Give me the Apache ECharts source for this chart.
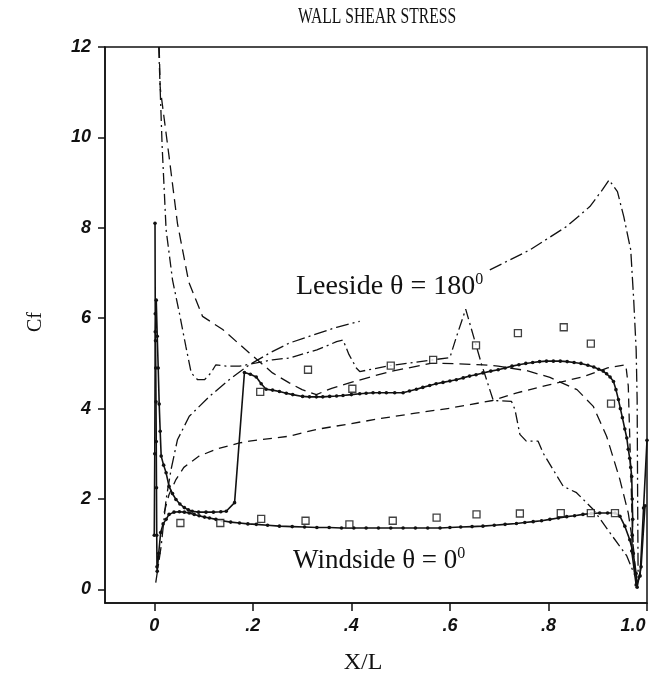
<!DOCTYPE html>
<html>
<head>
<meta charset="utf-8">
<title>Wall shear stress</title>
<script src="https://cdn.jsdelivr.net/npm/echarts@6/dist/echarts.min.js"></script>
<style>
  html, body { margin: 0; padding: 0; background: #fff; }
  #chart { width: 650px; height: 685px; }
</style>
</head>
<body>
<div id="chart"></div>
<script>
// Axis ticks
const xTickValues = [0, 0.2, 0.4, 0.6, 0.8, 1.0];
const xTickLabels = ['0', '.2', '.4', '.6', '.8', '1.0'];
const yTickValues = [0, 2, 4, 6, 8, 10, 12];
const yTickLabels = ['0', '2', '4', '6', '8', '10', '12'];

// Computed skin friction, leeside (theta = 180 deg), [X/L, Cf]
const leesideCalc = [
  [0.000,1.2],[0.001,3.0],[0.002,5.7],[0.004,6.4],[0.006,5.6],[0.008,4.9],[0.010,4.1],[0.012,3.5],
  [0.014,2.95],[0.019,2.75],[0.024,2.58],[0.030,2.28],[0.037,2.12],[0.044,1.99],[0.052,1.89],
  [0.061,1.81],[0.069,1.76],[0.077,1.73],[0.090,1.71],[0.105,1.71],[0.120,1.71],[0.135,1.72],
  [0.146,1.73],[0.163,1.92],[0.183,4.80],[0.195,4.76],[0.207,4.70],[0.217,4.55],[0.227,4.43],
  [0.240,4.41],[0.254,4.38],[0.268,4.34],[0.281,4.31],[0.301,4.27],[0.315,4.26],[0.329,4.26],
  [0.342,4.26],[0.356,4.27],[0.370,4.28],[0.383,4.29],[0.400,4.31],[0.417,4.33],[0.430,4.34],
  [0.444,4.35],[0.457,4.35],[0.471,4.35],[0.488,4.35],[0.505,4.35],[0.518,4.39],[0.532,4.43],
  [0.545,4.47],[0.559,4.51],[0.572,4.55],[0.586,4.58],[0.600,4.61],[0.613,4.64],[0.627,4.68],
  [0.640,4.72],[0.653,4.75],[0.667,4.79],[0.683,4.83],[0.698,4.86],[0.712,4.90],[0.726,4.94],
  [0.740,4.97],[0.754,5.00],[0.768,5.02],[0.782,5.04],[0.796,5.05],[0.810,5.05],[0.824,5.05],
  [0.838,5.04],[0.852,5.02],[0.866,5.00],[0.880,4.96],[0.892,4.92],[0.902,4.87],[0.911,4.83],
  [0.918,4.77],[0.925,4.70],[0.932,4.60],[0.937,4.42],[0.942,4.20],[0.946,4.00],[0.950,3.80],
  [0.955,3.55],[0.959,3.35],[0.962,3.10],[0.965,2.90],[0.967,2.70],[0.969,2.50],[0.970,2.00],
  [0.971,1.55],[0.970,1.20],[0.969,0.85],[0.978,0.10],[0.986,0.30],[0.993,1.80],[1.000,3.30]
];

// Computed skin friction, windside (theta = 0 deg), [X/L, Cf]
const windsideCalc = [
  [0.0015,8.1],[0.002,6.1],[0.0025,5.5],[0.003,4.9],[0.0035,4.15],[0.004,3.27],[0.0045,2.25],
  [0.005,1.2],[0.0055,0.5],[0.006,0.4],[0.009,0.8],[0.013,1.26],[0.018,1.45],[0.024,1.55],
  [0.030,1.66],[0.040,1.71],[0.051,1.72],[0.061,1.71],[0.071,1.69],[0.081,1.66],[0.091,1.63],
  [0.102,1.60],[0.112,1.58],[0.125,1.55],[0.138,1.52],[0.155,1.49],[0.173,1.47],[0.190,1.45],
  [0.207,1.44],[0.230,1.42],[0.254,1.40],[0.280,1.39],[0.305,1.38],[0.330,1.37],[0.355,1.37],
  [0.380,1.36],[0.405,1.36],[0.430,1.36],[0.455,1.36],[0.480,1.36],[0.505,1.36],[0.530,1.36],
  [0.555,1.36],[0.580,1.36],[0.600,1.37],[0.622,1.38],[0.645,1.39],[0.667,1.40],[0.690,1.42],
  [0.712,1.44],[0.735,1.46],[0.752,1.48],[0.769,1.50],[0.786,1.52],[0.803,1.55],[0.820,1.58],
  [0.837,1.61],[0.853,1.63],[0.870,1.66],[0.887,1.68],[0.904,1.69],[0.920,1.69],[0.935,1.69],
  [0.945,1.62],[0.955,1.40],[0.965,1.10],[0.972,0.80],[0.978,0.35],[0.980,0.05],[0.988,0.50],
  [0.996,1.85]
];

// Model curve A (long dash / dot)
const modelA = [
  [0.009,12.0],[0.016,9.8],[0.024,7.96],[0.037,6.85],[0.051,6.11],[0.064,5.38],[0.075,4.79],
  [0.088,4.64],[0.102,4.64],[0.115,4.79],[0.125,4.97],[0.146,4.94],[0.173,4.94],[0.207,5.01],
  [0.240,5.08],[0.274,5.12],[0.330,5.30],[0.370,5.48],[0.383,5.52],[0.395,5.20],[0.410,4.90],
  [0.417,4.82],[0.478,4.95],[0.566,5.08],[0.600,5.13],[0.613,5.58],[0.632,6.20],[0.664,4.99],
  [0.688,4.18],[0.725,4.16],[0.732,3.98],[0.742,3.43],[0.755,3.28],[0.779,3.28],[0.789,3.02],
  [0.830,2.28],[0.857,2.14],[0.891,1.77],[0.925,1.25],[0.959,0.74],[0.976,0.29]
];

// Model curve B (dash / dot), broken where the leeside label sits
const modelB = [
  [0.003,0.15],[0.014,0.96],[0.024,1.99],[0.034,2.65],[0.047,3.31],[0.071,3.83],[0.112,4.27],
  [0.152,4.64],[0.193,4.97],[0.234,5.23],[0.274,5.45],[0.320,5.62],[0.370,5.80],[0.417,5.93],
  [0.550,'-'],
  [0.681,7.07],[0.762,7.51],[0.837,8.03],[0.884,8.47],[0.910,8.85],[0.923,9.06],[0.940,8.80],
  [0.953,8.24],[0.967,7.51],[0.973,6.41],[0.978,5.30],[0.980,4.20],[0.981,2.0],[0.982,0.25]
];

// Model curve C (dashed, upper)
const modelC = [
  [0.010,12.0],[0.012,11.1],[0.030,9.58],[0.047,8.10],[0.070,6.80],[0.098,6.04],[0.139,5.75],
  [0.193,5.23],[0.240,4.79],[0.274,4.57],[0.300,4.42],[0.329,4.31],[0.360,4.45],[0.396,4.57],
  [0.478,4.82],[0.566,5.01],[0.667,4.97],[0.698,4.94],[0.756,4.84],[0.803,4.69],[0.858,4.42],
  [0.891,4.05],[0.918,3.39],[0.945,2.43],[0.962,1.69],[0.972,0.96],[0.978,0.20]
];

// Model curve D (dashed, lower)
const modelD = [
  [0.020,1.70],[0.030,2.10],[0.044,2.43],[0.060,2.70],[0.091,2.95],[0.130,3.12],[0.173,3.24],
  [0.193,3.28],[0.274,3.39],[0.329,3.54],[0.400,3.67],[0.464,3.79],[0.530,3.90],[0.600,4.01],
  [0.687,4.18],[0.736,4.35],[0.803,4.53],[0.872,4.71],[0.920,4.90],[0.957,4.97],[0.962,4.50],
  [0.966,3.00],[0.970,1.50],[0.975,0.30]
];

// Measured values
const leesideExp = [
  [0.215,4.37],[0.312,4.86],[0.402,4.44],[0.480,4.95],[0.566,5.08],[0.653,5.40],
  [0.738,5.67],[0.831,5.80],[0.886,5.44],[0.927,4.11]
];
const windsideExp = [
  [0.053,1.47],[0.134,1.47],[0.217,1.56],[0.307,1.52],[0.396,1.44],[0.484,1.52],
  [0.573,1.59],[0.654,1.66],[0.742,1.68],[0.825,1.69],[0.886,1.69],[0.935,1.69]
];

const INK = '#111';
const serif = '"Liberation Serif", "DejaVu Serif", serif';
const sans = '"Liberation Sans", Arial, sans-serif';

function calcSeries(name, data) {
  return {
    name, type: 'line', data,
    symbol: 'circle', symbolSize: 3.6, showSymbol: true,
    lineStyle: { color: INK, width: 1.6 },
    itemStyle: { color: INK },
    z: 4
  };
}
function modelSeries(name, data, dash) {
  return {
    name, type: 'line', data, symbol: 'none', connectNulls: false,
    lineStyle: { color: INK, width: 1.3, type: dash },
    z: 3
  };
}
function expSeries(name, data) {
  return {
    name, type: 'scatter', data, symbol: 'rect', symbolSize: 7,
    itemStyle: { color: '#fff', borderColor: INK, borderWidth: 1.3 },
    z: 5
  };
}

const tickFont = { color: INK, fontFamily: sans, fontStyle: 'italic', fontWeight: 'bold', fontSize: 18 };

const chart = echarts.init(document.getElementById('chart'), null, { renderer: 'canvas' });
chart.setOption({
  animation: false,
  backgroundColor: '#fff',
  grid: {
    left: 105, right: 3, top: 47, bottom: 82,
    outerBoundsMode: 'none', containLabel: false,
    show: true, borderColor: INK, borderWidth: 1.5, backgroundColor: 'transparent'
  },
  xAxis: {
    type: 'value', min: -0.1, max: 1.0,
    splitLine: { show: false },
    axisLine: { show: true, onZero: false, lineStyle: { color: INK, width: 1.5 } },
    axisTick: { show: true, inside: false, length: 8, customValues: xTickValues, lineStyle: { color: INK, width: 1.5 } },
    axisLabel: Object.assign({
      customValues: xTickValues, margin: 14, hideOverlap: false,
      formatter: v => {
        const i = xTickValues.findIndex(t => Math.abs(t - v) < 1e-9);
        if (i < 0) return '';
        // last label sits left of its tick so it stays inside the frame edge
        return i === xTickValues.length - 1 ? '{end|' + xTickLabels[i] + '}' : xTickLabels[i];
      },
      rich: { end: Object.assign({ padding: [0, 28, 0, 0] }, { color: INK, fontFamily: sans, fontStyle: 'italic', fontWeight: 'bold', fontSize: 18 }) }
    }, tickFont)
  },
  yAxis: {
    type: 'value', min: -0.3, max: 12,
    splitLine: { show: false },
    axisLine: { show: true, onZero: false, lineStyle: { color: INK, width: 1.5 } },
    axisTick: { show: true, inside: false, length: 7, customValues: yTickValues, lineStyle: { color: INK, width: 1.5 } },
    axisLabel: Object.assign({
      customValues: yTickValues, margin: 14,
      formatter: v => yTickLabels[yTickValues.indexOf(v)] || ''
    }, tickFont)
  },
  series: [
    modelSeries('A', modelA, [11, 4, 2, 4]),
    modelSeries('B', modelB, [13, 4, 2, 4]),
    modelSeries('C', modelC, [11, 6]),
    modelSeries('D', modelD, [9, 6]),
    calcSeries('Leeside', leesideCalc),
    calcSeries('Windside', windsideCalc),
    expSeries('Leeside data', leesideExp),
    expSeries('Windside data', windsideExp)
  ],
  graphic: [
    { type: 'text', x: 377, y: 17, scaleX: 0.68, z: 10,
      style: { text: 'WALL SHEAR STRESS', fontFamily: serif, fontSize: 23, fill: INK, textAlign: 'center', textVerticalAlign: 'middle' } },
    { type: 'text', x: 363, y: 663, z: 10,
      style: { text: 'X/L', fontFamily: serif, fontSize: 24, fill: INK, textAlign: 'center', textVerticalAlign: 'middle' } },
    { type: 'text', x: 36, y: 322, rotation: Math.PI / 2, z: 10,
      style: { text: 'Cf', fontFamily: serif, fontSize: 20, fill: INK, textAlign: 'center', textVerticalAlign: 'middle' } },
    { type: 'text', x: 296, y: 287, z: 10,
      style: {
        text: '{a|Leeside θ = 180}{s|0}', textAlign: 'left', textVerticalAlign: 'middle',
        rich: {
          a: { fontFamily: serif, fontSize: 28, fill: INK, color: INK, lineHeight: 30 },
          s: { fontFamily: serif, fontSize: 16, fill: INK, color: INK, lineHeight: 30, verticalAlign: 'top' }
        }
      } },
    { type: 'text', x: 293, y: 561, z: 10,
      style: {
        text: '{a|Windside θ = 0}{s|0}', textAlign: 'left', textVerticalAlign: 'middle',
        rich: {
          a: { fontFamily: serif, fontSize: 27, fill: INK, color: INK, lineHeight: 30 },
          s: { fontFamily: serif, fontSize: 16, fill: INK, color: INK, lineHeight: 30, verticalAlign: 'top' }
        }
      } }
  ]
});
</script>
</body>
</html>
